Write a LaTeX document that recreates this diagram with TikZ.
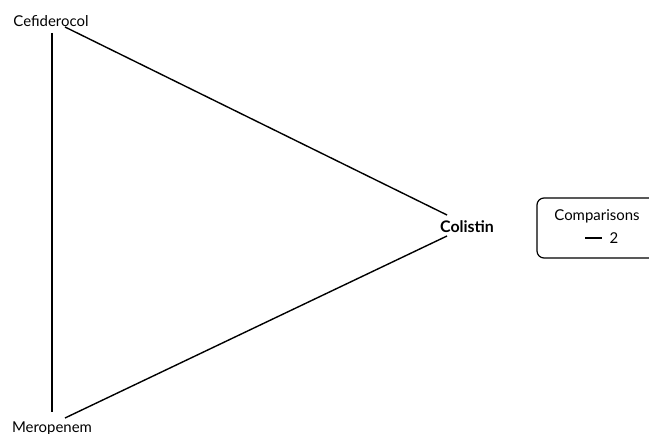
\documentclass[tikz,border=0pt]{standalone}
\usepackage{fontspec}
\setmainfont{Lato}
\begin{document}
\begin{tikzpicture}[x=1bp,y=-1bp,
    label/.style={inner sep=0pt, font=\fontsize{15}{18}\selectfont},
    edge/.style={line width=1.4bp, black}]
            \useasboundingbox (0,0) rectangle (649,434);
            \node[label] (C) at (51, 21) {Cefiderocol};
            \node[label] (M) at (52, 428) {Meropenem};
            \node[label, font=\fontsize{16}{18}\selectfont\bfseries] (L) at (467, 227) {Colistin};

            \coordinate (c1) at (52, 33);
            \coordinate (c2) at (65, 27);
            \coordinate (m1) at (52, 412);
            \coordinate (m2) at (65, 418);
            \coordinate (l1) at (447, 215);
            \coordinate (l2) at (447, 236);

            \path[edge] (c1) edge node {} (m1);
            \path[edge] (c2) edge node {} (l1);
            \path[edge] (m2) edge node {} (l2);

            \draw[line width=1.2bp, rounded corners=7bp] (537, 198) rectangle (662, 258);
            \node[label] (K) at (597, 216) {Comparisons};
            \coordinate (k1) at (585, 238);
            \coordinate (k2) at (602, 238);
            \path[edge] (k1) edge node {} (k2);
            \node[label] (N) at (614, 238) {2};
        \end{tikzpicture}
\end{document}
